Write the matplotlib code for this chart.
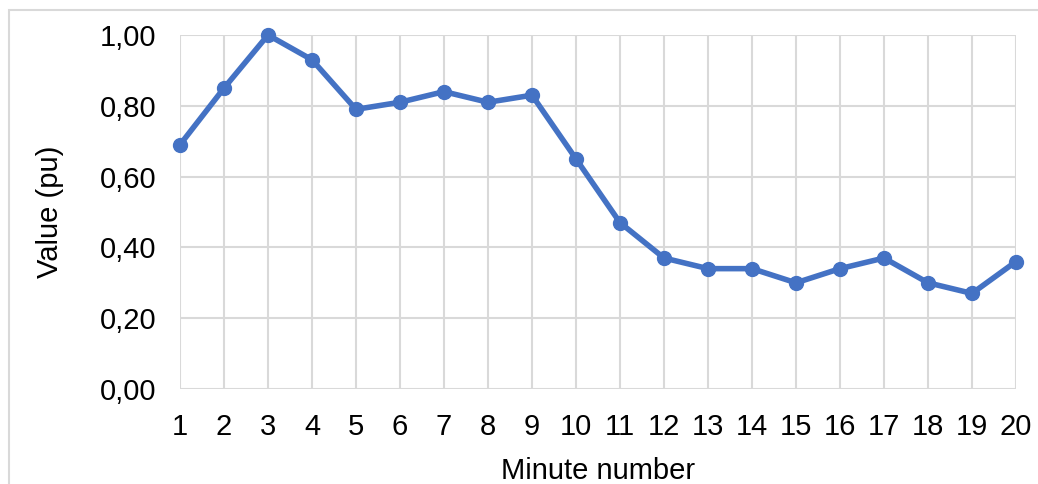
import numpy as np
import matplotlib.pyplot as plt
from matplotlib.patches import Rectangle
from matplotlib.ticker import FuncFormatter

plt.rcParams['font.family'] = ['Liberation Sans', 'DejaVu Sans']

minutes = list(range(1, 21))
values = [0.69, 0.85, 1.00, 0.93, 0.79, 0.81, 0.84, 0.81, 0.83, 0.65,
          0.47, 0.37, 0.34, 0.34, 0.30, 0.34, 0.37, 0.30, 0.27, 0.36]
yticks = [0.0, 0.2, 0.4, 0.6, 0.8, 1.0]

blue = '#4472C4'
grid = '#D9D9D9'

fig = plt.figure(figsize=(10.38, 4.84), dpi=100)
ax = fig.add_axes([180/1038, 1 - 389/484, (1016-180)/1038, (389-35)/484])

ax.plot(minutes, values, color=blue, linewidth=4, marker='o', markersize=10,
        solid_joinstyle='round', clip_on=False, zorder=3)

ax.set_xlim(1, 20)
ax.set_ylim(0, 1.0)
ax.set_xticks(minutes)
ax.set_yticks(yticks)
ax.yaxis.set_major_formatter(FuncFormatter(lambda v, p: f"{v:.2f}".replace('.', ',')))
ax.grid(True, color=grid, linewidth=1.5)
ax.set_axisbelow(True)
for s in ax.spines.values():
    s.set_visible(False)
ax.tick_params(axis='x', length=0, labelsize=21, pad=17)
ax.tick_params(axis='y', length=0, labelsize=21, pad=17)
ax.set_xlabel("Minute number", fontsize=21, labelpad=12)
ax.set_ylabel("Value (pu)", fontsize=21, labelpad=26)

# outer chart border (right/bottom edges fall outside the picture)
fig.patches.append(Rectangle((9/1038, -0.1), 1.2, 1.1 - 10/484,
                             transform=fig.transFigure, fill=False,
                             edgecolor=grid, linewidth=1.5))

fig.savefig('out.png', dpi=100)
